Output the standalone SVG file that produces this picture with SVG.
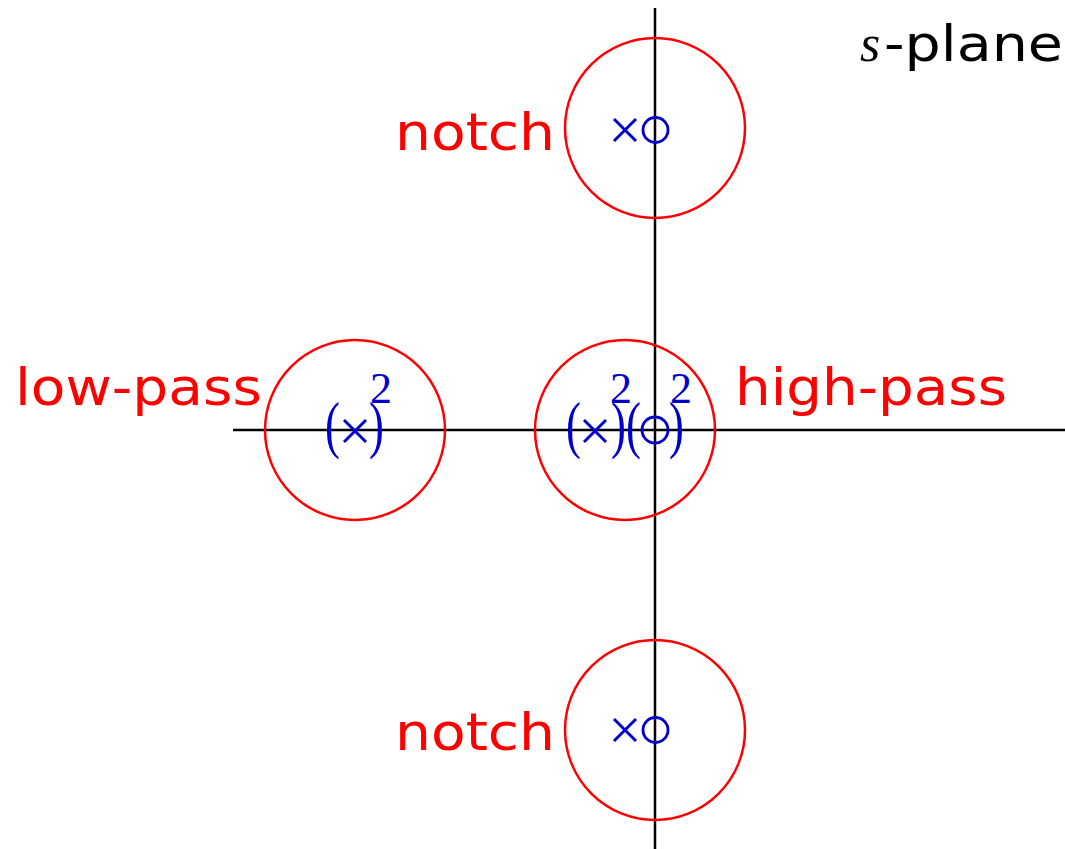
<svg xmlns="http://www.w3.org/2000/svg" width="1065" height="849" viewBox="0 0 1065 849">
<style>
.axis{stroke:#000;stroke-width:2.5;fill:none}
.reg{stroke:#ff0000;stroke-width:2.5;fill:none}
.pole{stroke:#0000cc;stroke-width:3;fill:none}
.zero{stroke:#0000cc;stroke-width:2.8;fill:none}
.lbl{font-family:"DejaVu Sans",sans-serif;font-size:52px;fill:#ff0000}
.math{font-family:"Liberation Serif",serif;fill:#0000cc}
.par{font-size:56px}
.sup{font-size:44px}
</style>
<rect width="1065" height="849" fill="#fff"/>
<g id="connectors">
<line class="axis" x1="655" y1="8" x2="655" y2="849"/>
<line class="axis" x1="233" y1="430" x2="1065" y2="430"/>
</g>
<g id="title">
<text x="860" y="61" style="font-family:'Liberation Serif',serif;font-style:italic;font-size:52px;fill:#000">s</text>
<text x="884" y="61" textLength="179" lengthAdjust="spacingAndGlyphs" style="font-family:'DejaVu Sans',sans-serif;font-size:50px;fill:#000">-plane</text>
</g>
<g id="notch-top">
<circle class="reg" cx="655" cy="128" r="90"/>
<path class="pole" d="M614,119 L636,141 M636,119 L614,141"/>
<circle class="zero" cx="655.5" cy="130" r="12.5"/>
<text class="lbl" x="555" y="150" text-anchor="end" textLength="160" lengthAdjust="spacingAndGlyphs">notch</text>
</g>
<g id="notch-bottom">
<circle class="reg" cx="655" cy="730" r="90"/>
<path class="pole" d="M614,719 L636,741 M636,719 L614,741"/>
<circle class="zero" cx="655.5" cy="730" r="12.5"/>
<text class="lbl" x="555" y="750" text-anchor="end" textLength="160" lengthAdjust="spacingAndGlyphs">notch</text>
</g>
<g id="low-pass">
<circle class="reg" cx="355" cy="430" r="90"/>
<path class="pole" d="M344,420 L366,442 M366,420 L344,442"/>
<text class="math par" transform="translate(325,446) scale(0.8,1.12)">(</text>
<text class="math par" transform="translate(369,446) scale(0.8,1.12)">)</text>
<text class="math sup" x="370" y="403">2</text>
<text class="lbl" x="15" y="405" textLength="247" lengthAdjust="spacingAndGlyphs">low-pass</text>
</g>
<g id="high-pass">
<circle class="reg" cx="625" cy="430" r="90"/>
<path class="pole" d="M584,420 L606,442 M606,420 L584,442"/>
<text class="math par" transform="translate(566,446) scale(0.8,1.12)">(</text>
<text class="math par" transform="translate(611,446) scale(0.8,1.12)">)</text>
<text class="math sup" x="610" y="403">2</text>
<circle class="zero" cx="655" cy="430" r="13"/>
<text class="math par" transform="translate(626,446) scale(0.8,1.12)">(</text>
<text class="math par" transform="translate(669,446) scale(0.8,1.12)">)</text>
<text class="math sup" x="670" y="403">2</text>
<text class="lbl" x="735" y="405" textLength="272" lengthAdjust="spacingAndGlyphs">high-pass</text>
</g>
</svg>
